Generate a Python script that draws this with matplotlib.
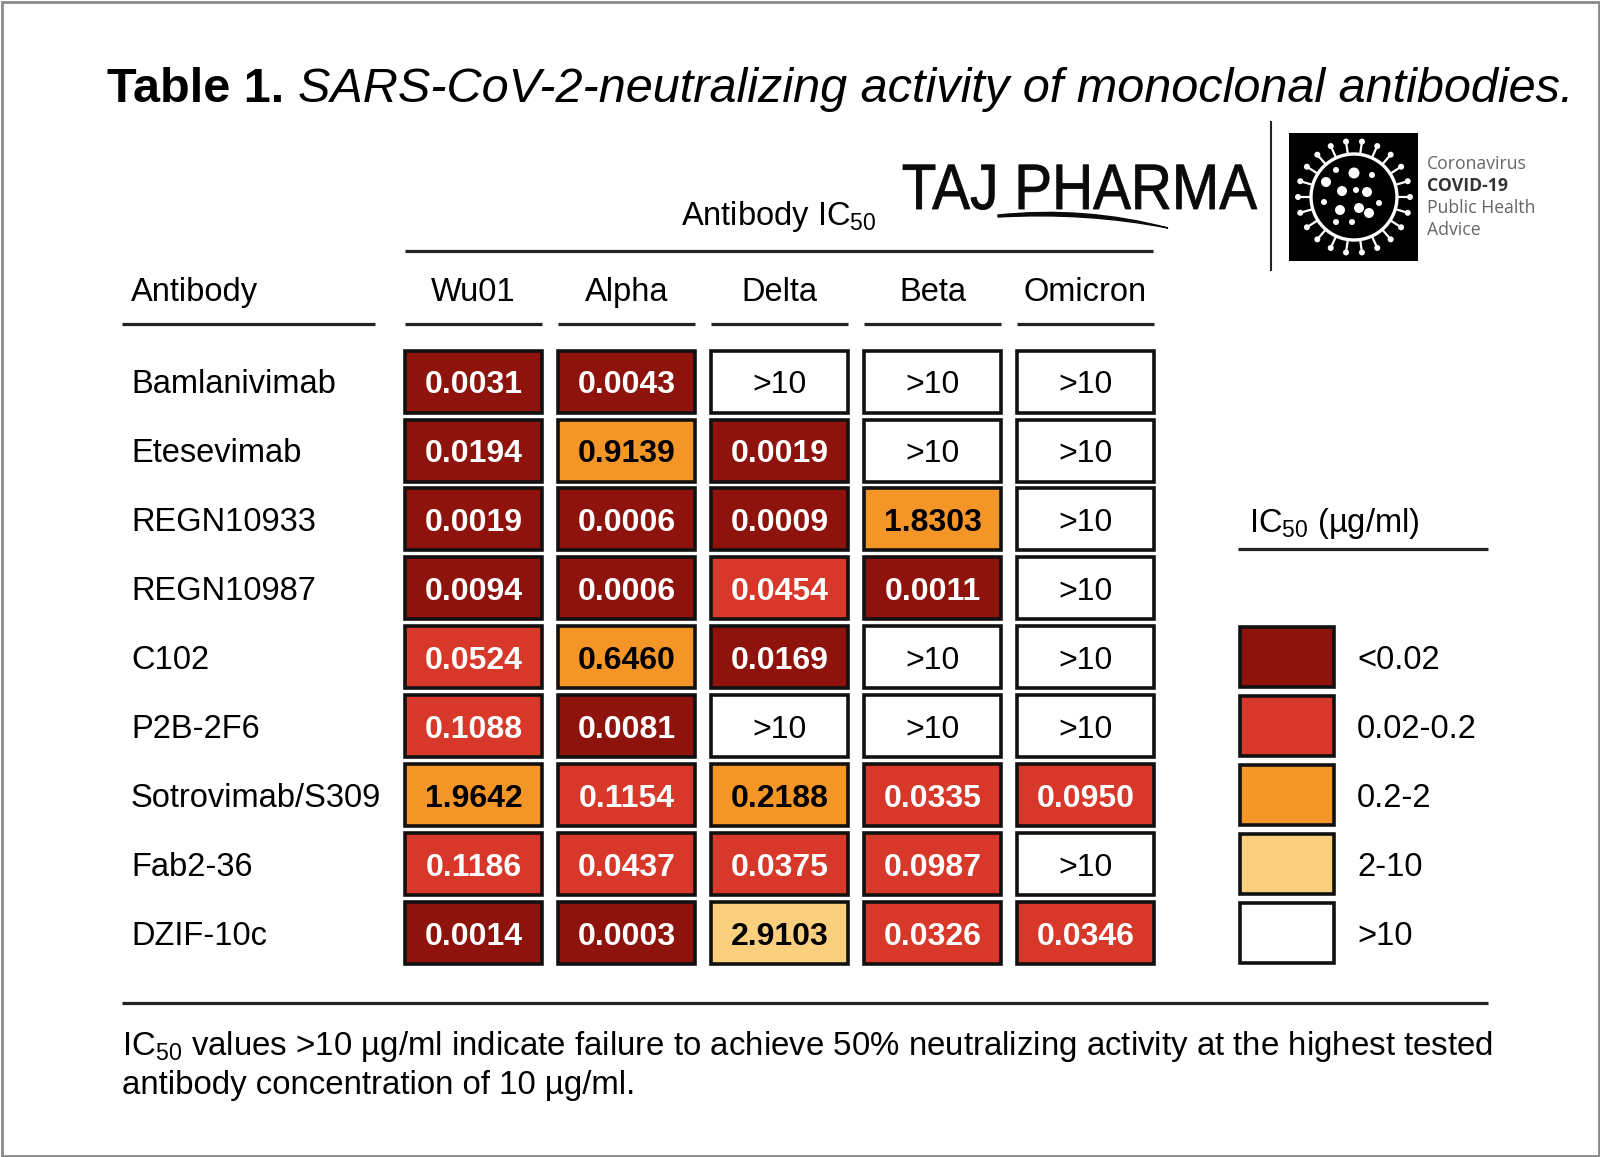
import numpy as np
import matplotlib
matplotlib.use("Agg")
import matplotlib.pyplot as plt
from matplotlib.patches import Rectangle, Circle, PathPatch
from matplotlib.path import Path
from matplotlib.textpath import TextPath
from matplotlib.font_manager import FontProperties
from matplotlib.transforms import Affine2D

plt.rcParams['font.family'] = ['Liberation Sans', 'DejaVu Sans']
plt.rcParams['mathtext.fontset'] = 'custom'
plt.rcParams['mathtext.rm'] = 'Liberation Sans'
plt.rcParams['mathtext.it'] = 'Liberation Sans:italic'
plt.rcParams['mathtext.bf'] = 'Liberation Sans:bold'

# --- datos de la tabla ---
anticuerpos = ["Bamlanivimab", "Etesevimab", "REGN10933", "REGN10987", "C102",
               "P2B-2F6", "Sotrovimab/S309", "Fab2-36", "DZIF-10c"]
variantes = ["Wu01", "Alpha", "Delta", "Beta", "Omicron"]
valores = [
    ["0.0031", "0.0043", ">10", ">10", ">10"],
    ["0.0194", "0.9139", "0.0019", ">10", ">10"],
    ["0.0019", "0.0006", "0.0009", "1.8303", ">10"],
    ["0.0094", "0.0006", "0.0454", "0.0011", ">10"],
    ["0.0524", "0.6460", "0.0169", ">10", ">10"],
    ["0.1088", "0.0081", ">10", ">10", ">10"],
    ["1.9642", "0.1154", "0.2188", "0.0335", "0.0950"],
    ["0.1186", "0.0437", "0.0375", "0.0987", ">10"],
    ["0.0014", "0.0003", "2.9103", "0.0326", "0.0346"],
]
limites = [0.02, 0.2, 2, 10]
colores = ["#8E130C", "#D8382A", "#F39527", "#FAD07E", "#FFFFFF"]
etiquetas_leyenda = ["<0.02", "0.02-0.2", "0.2-2", "2-10", ">10"]
color_texto = ["white", "white", "black", "black", "black"]


def clase(v):
    x = np.inf if v.startswith(">") else float(v)
    return int(np.searchsorted(limites, x, side="right"))


fig = plt.figure(figsize=(16, 11.57), dpi=100)
ax = fig.add_axes([0, 0, 1, 1])
ax.set_xlim(0, 1600)
ax.set_ylim(1157, 0)
ax.axis("off")

# borde exterior
ax.add_patch(Rectangle((1.5, 1.5), 1597, 1154, fill=False, ec="#8a8a8a", lw=2))

# titulo
fs_body = 23.5
t1 = ax.text(107, 102, "Table 1.", fontsize=35, fontweight="bold", va="baseline")
fig.canvas.draw()
r = fig.canvas.get_renderer()
bb = t1.get_window_extent(r)
x2 = ax.transData.inverted().transform((bb.x1, 0))[0] + 14
ax.text(x2, 102, "SARS-CoV-2-neutralizing activity of monoclonal antibodies.",
        fontsize=35, style="italic", va="baseline")

# geometria de la tabla
x0_col, paso_col, ancho = 473.5, 153, 137
y0_fila, paso_fila, alto = 381.6, 68.9, 62
cap = 11.7
lw_regla = 2.3

ax.text(779, 225, r"Antibody IC$_{\mathregular{50}}$", fontsize=fs_body, ha="center", va="baseline")
ax.plot([405, 1153], [251, 251], color="#222222", lw=lw_regla, solid_capstyle="butt")

ax.text(131, 301, "Antibody", fontsize=fs_body, va="baseline")
ax.plot([122, 375], [324, 324], color="#222222", lw=lw_regla, solid_capstyle="butt")
for j, var in enumerate(variantes):
    xc = x0_col + j * paso_col
    ax.text(xc, 301, var, fontsize=fs_body, ha="center", va="baseline")
    ax.plot([xc - ancho / 2, xc + ancho / 2], [324, 324], color="#222222",
            lw=lw_regla, solid_capstyle="butt")

for i, nombre in enumerate(anticuerpos):
    yc = y0_fila + i * paso_fila
    ax.text(131, yc + cap, nombre, fontsize=fs_body, va="baseline")
    for j, v in enumerate(valores[i]):
        xc = x0_col + j * paso_col
        k = clase(v)
        ax.add_patch(Rectangle((xc - ancho / 2, yc - alto / 2), ancho, alto,
                               fc=colores[k], ec="#111111", lw=2.6))
        peso = "normal" if k == 4 else "bold"
        ax.text(xc, yc + cap, v, fontsize=23, fontweight=peso, color=color_texto[k],
                ha="center", va="baseline")

# leyenda
ax.text(1249, 532, r"IC$_{\mathregular{50}}$ (µg/ml)", fontsize=fs_body, va="baseline")
ax.plot([1238, 1488], [549, 549], color="#222222", lw=lw_regla, solid_capstyle="butt")
for k, lab in enumerate(etiquetas_leyenda):
    yc = y0_fila + (4 + k) * paso_fila
    ax.add_patch(Rectangle((1240, yc - 30), 94, 60, fc=colores[k], ec="#111111", lw=2.6))
    ax.text(1357, yc + cap, lab, fontsize=fs_body, va="baseline")

# nota al pie
ax.plot([122, 1488], [1003, 1003], color="#222222", lw=lw_regla, solid_capstyle="butt")
ax.text(122, 1055, r"IC$_{\mathregular{50}}$ values >10 µg/ml indicate failure to achieve 50% "
        "neutralizing activity at the highest tested", fontsize=23.75, va="baseline")
ax.text(122, 1094, "antibody concentration of 10 µg/ml.", fontsize=23.75, va="baseline")

# logo TAJ PHARMA: texto estrechado con TextPath
tp = TextPath((0, 0), "TAJ PHARMA", size=1, prop=FontProperties(family="Liberation Sans"))
ext = tp.get_extents()
sx = 354 / ext.width
sy = 46 / 0.716
tr = Affine2D().translate(-ext.x0, 0).scale(sx, -sy).translate(903, 209)
ax.add_patch(PathPatch(tr.transform_path(tp), fc="#0a0a0a", ec="#0a0a0a", lw=0.6))
verts = [(998, 215), (1085, 206), (1168, 228), (1085, 212), (998, 217), (998, 215)]
codes = [Path.MOVETO, Path.CURVE3, Path.CURVE3, Path.CURVE3, Path.CURVE3, Path.CLOSEPOLY]
ax.add_patch(PathPatch(Path(verts, codes), fc="#0a0a0a", ec="#0a0a0a", lw=1))

ax.plot([1271, 1271], [122, 270], color="#222222", lw=1.5)

# icono del virus
ax.add_patch(Rectangle((1289, 133), 129, 128, fc="black", ec="none"))
cx, cy = 1354, 197
ax.add_patch(Circle((cx, cy), 43, fill=False, ec="white", lw=2.4))
for a in np.linspace(0, 2 * np.pi, 22, endpoint=False):
    ax.plot([cx + 43 * np.cos(a), cx + 55 * np.cos(a)],
            [cy + 43 * np.sin(a), cy + 55 * np.sin(a)], color="white", lw=1.6)
    ax.add_patch(Circle((cx + 56 * np.cos(a), cy + 56 * np.sin(a)), 3, fc="white", ec="none"))
puntos = [(-18, -27, 3), (0, -24, 5.5), (18, -22, 3), (-28, -15, 5), (-12, -6, 5),
          (2, -7, 3), (13, -5, 5), (-30, 5, 3), (-14, 13, 5), (5, 11, 5),
          (15, 16, 5), (25, 6, 3), (-18, 25, 3), (-2, 25, 3)]
for dx, dy, rr in puntos:
    ax.add_patch(Circle((cx + dx, cy + dy), rr, fc="white", ec="none"))

ax.text(1427, 169, "Coronavirus", fontsize=12.7, family="Open Sans", color="#666666", va="baseline")
ax.text(1427, 191, "COVID-19", fontsize=12.7, family="Open Sans", fontweight="bold",
        color="#333333", va="baseline")
ax.text(1427, 213, "Public Health", fontsize=12.7, family="Open Sans", color="#666666", va="baseline")
ax.text(1427, 235, "Advice", fontsize=12.7, family="Open Sans", color="#666666", va="baseline")

plt.savefig("out.png", dpi=100)
